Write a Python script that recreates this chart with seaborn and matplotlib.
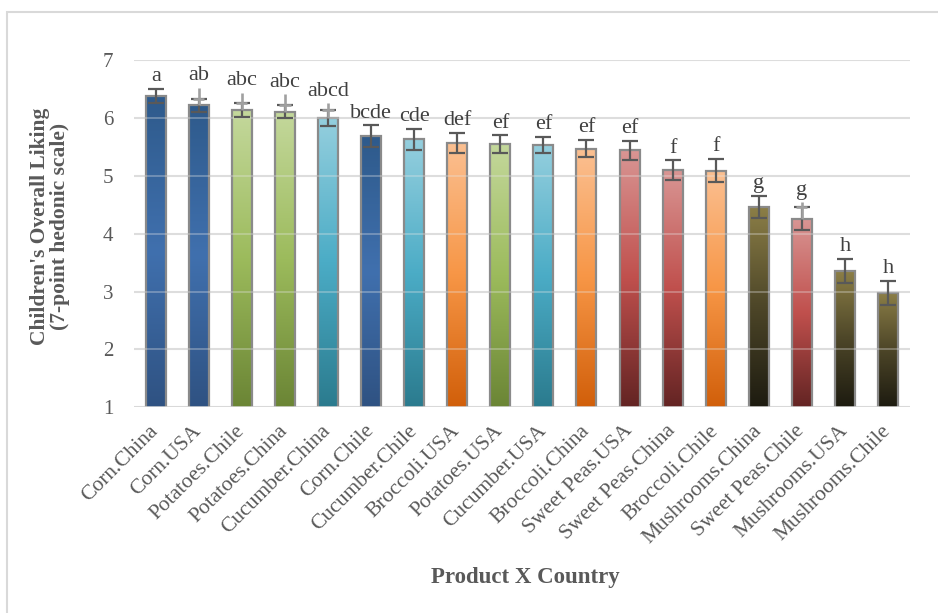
import numpy as np
import pandas as pd
import matplotlib
matplotlib.use("Agg")
import matplotlib.pyplot as plt
import seaborn as sns
from matplotlib.colors import LinearSegmentedColormap
from matplotlib.patches import Rectangle

# ---------------- data ----------------
labels = ["Corn.China", "Corn.USA", "Potatoes.Chile", "Potatoes.China", "Cucumber.China",
          "Corn.Chile", "Cucumber.Chile", "Broccoli.USA", "Potatoes.USA", "Cucumber.USA",
          "Broccoli.China", "Sweet Peas.USA", "Sweet Peas.China", "Broccoli.Chile",
          "Mushrooms.China", "Sweet Peas.Chile", "Mushrooms.USA", "Mushrooms.Chile"]
products = ["Corn", "Corn", "Potatoes", "Potatoes", "Cucumber",
            "Corn", "Cucumber", "Broccoli", "Potatoes", "Cucumber",
            "Broccoli", "Sweet Peas", "Sweet Peas", "Broccoli",
            "Mushrooms", "Sweet Peas", "Mushrooms", "Mushrooms"]
values = [6.38, 6.22, 6.13, 6.11, 6.00, 5.68, 5.63, 5.57, 5.55, 5.53,
          5.47, 5.44, 5.10, 5.09, 4.46, 4.26, 3.35, 2.98]
errors = [0.12, 0.11, 0.12, 0.12, 0.14, 0.19, 0.18, 0.17, 0.15, 0.14,
          0.15, 0.16, 0.165, 0.20, 0.19, 0.20, 0.21, 0.21]
# extra light-grey upper whisker visible on some bars
upper_ext = [0, 0.30, 0.30, 0.30, 0.25, 0, 0, 0, 0, 0,
             0, 0, 0, 0, 0, 0.28, 0, 0]
letters = ["a", "ab", "abc", "abc", "abcd", "bcde", "cde", "def", "ef", "ef",
           "ef", "ef", "f", "f", "g", "g", "h", "h"]

# gradient colours (top -> bottom) per product
gradients = {
    "Corn": ["#2e5a8b", "#4070ae", "#2f5282"],
    "Potatoes": ["#c4d89c", "#9cbb5c", "#6b8535"],
    "Cucumber": ["#95cfde", "#4bacc6", "#2b7b8e"],
    "Broccoli": ["#fbc092", "#f79646", "#d15f0a"],
    "Sweet Peas": ["#d99694", "#c0504d", "#632423"],
    "Mushrooms": ["#8c7f47", "#4d4628", "#1d1b10"],
}

# ---------------- figure ----------------
sns.set_theme(style="white")
plt.rcParams['font.family'] = ['Liberation Serif', 'DejaVu Serif']
text_col = "#595959"

W, H = 938, 613
fig = plt.figure(figsize=(W / 100, H / 100), dpi=100)
ax_l, ax_r, ax_t, ax_b = 134.2, 909.5, 60, 407.3
ax = fig.add_axes([ax_l / W, 1 - ax_b / H, (ax_r - ax_l) / W, (ax_b - ax_t) / H])

df = pd.DataFrame({"label": labels, "value": values, "product": products})
sns.barplot(data=df, x="label", y="value", order=labels, ax=ax, width=0.465,
            color="#808080", edgecolor="#8a8a8a", linewidth=1.6, errorbar=None)

n = len(labels)
grad = np.linspace(0, 1, 256).reshape(-1, 1)
for patch, prod in zip(ax.patches, products):
    x0 = patch.get_x()
    w = patch.get_width()
    top = patch.get_y() + patch.get_height()
    cmap = LinearSegmentedColormap.from_list(prod, gradients[prod])
    im = ax.imshow(grad, cmap=cmap, extent=(x0, x0 + w, 1, top), origin="upper",
                   aspect="auto", zorder=1, interpolation="bilinear")
    im.set_clip_path(patch)
    patch.set_facecolor("none")
    patch.set_zorder(2)

ax.set_xlim(-0.5, n - 0.5)
ax.set_ylim(1, 7)
ax.set_yticks(range(1, 8))
ax.yaxis.grid(True, color="#d9d9d9", lw=1.5, zorder=0)
ax.set_axisbelow(True)
for yv in range(2, 8):
    ax.axhline(yv, color="#e6e6e6", lw=1.3, alpha=0.35, zorder=2.5)
ax.axhline(1, color="#d9d9d9", lw=1.8, zorder=2.6)
for s in ax.spines.values():
    s.set_visible(False)

xs = np.arange(n)
vals = np.array(values)
errs = np.array(errors)
ext = np.array(upper_ext)

# error bars
ax.errorbar(xs, vals, yerr=errs, fmt="none", ecolor="#595959", elinewidth=1.6,
            capsize=5.5, capthick=1.6, zorder=4)
m = ext > 0
ax.vlines(xs[m], vals[m], vals[m] + ext[m], color="#a0a0a0", lw=1.9, zorder=5)
ax.hlines(vals[m] + errs[m], xs[m] - 0.13, xs[m] + 0.13, color="#a0a0a0", lw=1.9, zorder=5)

# significance letters
tops = np.maximum(vals + errs, vals + ext)
for xi, t, lab in zip(xs, tops, letters):
    ax.annotate(lab, (xi, t), xytext=(0, 5.5), textcoords="offset points",
                ha="center", va="baseline", fontsize=16, color="#404040", zorder=6)

# ticks
ax.set_xticks(xs)
ax.set_xticklabels(labels, rotation=45, ha="right", va="center",
                   rotation_mode="anchor", fontsize=15.5, color=text_col)
ax.tick_params(axis="x", length=0, pad=15)
ax.tick_params(axis="y", length=0, pad=15, labelsize=15, labelcolor=text_col)
ax.set_xlabel("")
ax.set_ylabel("")

fig.text(50 / W, 1 - 226 / H, "Children's Overall Liking\n(7-point hedonic scale)",
         rotation=90, ha="center", va="center", ma="center", fontsize=15.5,
         fontweight="bold", color=text_col, linespacing=1.0)
fig.text(525 / W, 1 - 577 / H, "Product X Country", ha="center", va="center",
         fontsize=16.5, fontweight="bold", color=text_col)

fig.patches.append(Rectangle((7 / W, -0.1), 2, 1 - 12 / H + 0.1, transform=fig.transFigure,
                             fill=False, ec="#d9d9d9", lw=1.5))

fig.savefig("out.png", dpi=100)
